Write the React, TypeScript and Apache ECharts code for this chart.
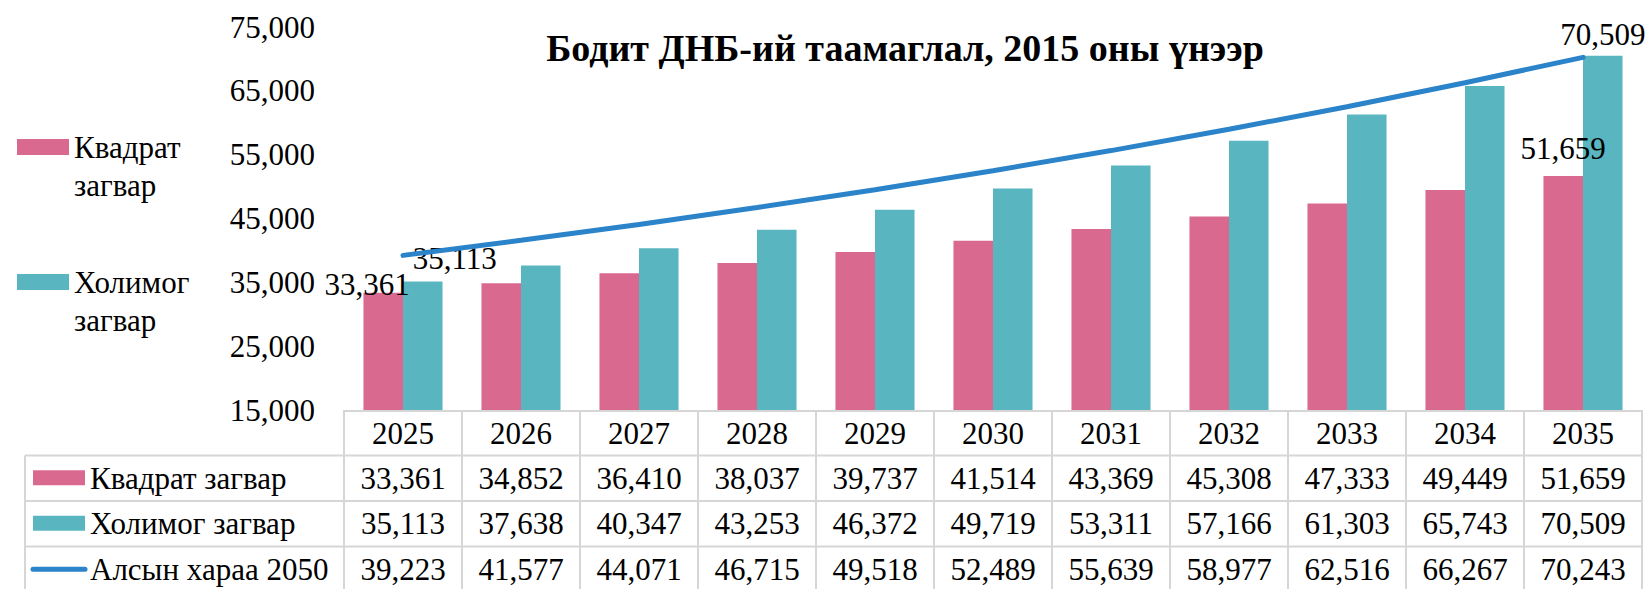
import React, { useEffect, useRef } from "react";
import * as echarts from "echarts";

const years = ["2025", "2026", "2027", "2028", "2029", "2030", "2031", "2032", "2033", "2034", "2035"];
const kvadrat = [33361, 34852, 36410, 38037, 39737, 41514, 43369, 45308, 47333, 49449, 51659];
const kholimog = [35113, 37638, 40347, 43253, 46372, 49719, 53311, 57166, 61303, 65743, 70509];
const alsyn = [39223, 41577, 44071, 46715, 49518, 52489, 55639, 58977, 62516, 66267, 70243];
const yMin = 15000;
const yMax = 75000;
const yStep = 10000;

const seriesNames = ["Квадрат загвар", "Холимог загвар", "Алсын хараа 2050"];
const legendNames = ["Квадрат\nзагвар", "Холимог\nзагвар"];
const titleText = "Бодит ДНБ-ий таамаглал, 2015 оны үнээр";

const PINK = "#DA6990";
const TEAL = "#59B6C0";
const BLUE = "#2B83C9";
const GRID_LINE = "#D6D6D6";
const FONT = "Liberation Serif";

const fmt = (v: number) => v.toLocaleString("en-US");

export default function App() {
  const ref = useRef<HTMLDivElement>(null);

  useEffect(() => {
    document.body.style.margin = "0";
    const chart = echarts.init(ref.current!, undefined, { renderer: "svg" });
    const last = years.length - 1;

    const labelBase = {
      show: true,
      position: "top",
      distance: 0,
      fontSize: 31,
      lineHeight: 31,
      fontFamily: FONT,
      color: "#000",
      formatter: (p: any) => fmt(p.value),
    };

    const kvData = kvadrat.map((v, i) =>
      i === 0
        ? { value: v, label: { ...labelBase, offset: [-16, 7] } }
        : i === last
        ? { value: v, label: { ...labelBase, offset: [0, -12] } }
        : v
    );
    const khData = kholimog.map((v, i) =>
      i === 0
        ? { value: v, label: { ...labelBase, offset: [32, -8] } }
        : i === last
        ? { value: v, label: { ...labelBase, offset: [0, -6] } }
        : v
    );

    // legend icon: a rect aligned with the first text line of a two-line item
    const legendIcon = "path://M0,11H52V27H0Z M0,0L0.01,0L0,0Z M0,76L0.01,76L0,76Z";

    chart.setOption({
      animation: false,
      backgroundColor: "#fff",
      title: {
        text: titleText,
        left: 900,
        top: 24,
        textAlign: "center",
        textStyle: { fontFamily: FONT, fontSize: 38, fontWeight: "bold", color: "#000" },
      },
      legend: {
        data: seriesNames.slice(0, 2),
        orient: "vertical",
        left: 12,
        top: 123,
        itemWidth: 52,
        itemHeight: 76,
        itemGap: 59,
        itemTextGap: 6,
        icon: legendIcon,
        formatter: (name: string) => legendNames[seriesNames.indexOf(name)],
        textStyle: {
          fontFamily: FONT,
          fontSize: 31,
          lineHeight: 38,
          color: "#000",
        },
      },
      grid: { left: 344, right: 8, top: 27, bottom: 179, containLabel: false },
      xAxis: {
        type: "category",
        data: years,
        axisLine: { show: false },
        axisTick: { show: false },
        axisLabel: { fontFamily: FONT, fontSize: 31, lineHeight: 36, color: "#000", margin: 5 },
      },
      yAxis: {
        type: "value",
        min: yMin,
        max: yMax,
        interval: yStep,
        splitLine: { show: false },
        axisLine: { show: false },
        axisTick: { show: false },
        axisLabel: { fontFamily: FONT, fontSize: 31, color: "#000", margin: 29, formatter: (v: number) => fmt(v) },
      },
      series: [
        { name: seriesNames[0], type: "bar", data: kvData, itemStyle: { color: PINK }, barGap: "0%", barCategoryGap: "33%" },
        { name: seriesNames[1], type: "bar", data: khData, itemStyle: { color: TEAL }, barGap: "0%", barCategoryGap: "33%" },
        {
          name: seriesNames[2],
          type: "line",
          data: alsyn,
          showSymbol: false,
          symbol: "none",
          lineStyle: { color: BLUE, width: 5, cap: "round" },
          itemStyle: { color: BLUE },
          z: 5,
        },
      ],
    });

    // Data table below the plot, positioned from the axes' own scales
    const cx = (i: number) => chart.convertToPixel({ xAxisIndex: 0 }, i) as number;
    const band = cx(1) - cx(0);
    const L = cx(0) - band / 2;
    const R = cx(last) + band / 2;
    const y0 = chart.convertToPixel({ yAxisIndex: 0 }, yMin) as number;
    const rowH = 45.5;
    const tableLeft = 25;
    const rows = [kvadrat, kholimog, alsyn];
    const els: any[] = [];
    const lineStyle = { stroke: GRID_LINE, lineWidth: 2 };

    els.push({ type: "line", shape: { x1: L, y1: y0 + 1, x2: R, y2: y0 + 1 }, style: lineStyle, silent: true });
    for (let k = 1; k <= 4; k++) {
      els.push({ type: "line", shape: { x1: tableLeft, y1: y0 + rowH * k, x2: R, y2: y0 + rowH * k }, style: lineStyle, silent: true });
    }
    for (let j = 0; j <= years.length; j++) {
      const x = L + band * j;
      els.push({ type: "line", shape: { x1: x, y1: y0, x2: x, y2: y0 + rowH * 4 }, style: lineStyle, silent: true });
    }
    els.push({ type: "line", shape: { x1: tableLeft, y1: y0 + rowH, x2: tableLeft, y2: y0 + rowH * 4 }, style: lineStyle, silent: true });

    rows.forEach((vals, r) => {
      const cy = y0 + rowH * (r + 1.5);
      vals.forEach((v, i) => {
        els.push({
          type: "text",
          x: cx(i),
          y: cy,
          silent: true,
          style: { text: fmt(v), fill: "#000", fontFamily: FONT, fontSize: 31, align: "center", verticalAlign: "middle" },
        });
      });
      if (r < 2) {
        els.push({ type: "rect", shape: { x: 33, y: cy - 8, width: 52, height: 15 }, style: { fill: r === 0 ? PINK : TEAL }, silent: true });
      } else {
        els.push({ type: "line", shape: { x1: 33, y1: cy, x2: 85, y2: cy }, style: { stroke: BLUE, lineWidth: 5, lineCap: "round" }, silent: true });
      }
      els.push({
        type: "text",
        x: 90,
        y: cy,
        silent: true,
        style: { text: seriesNames[r], fill: "#000", fontFamily: FONT, fontSize: 31, align: "left", verticalAlign: "middle" },
      });
    });

    chart.setOption({ graphic: { elements: els } });

    return () => chart.dispose();
  }, []);

  return <div ref={ref} style={{ position: "absolute", left: 0, top: 0, width: 1650, height: 589 }} />;
}
